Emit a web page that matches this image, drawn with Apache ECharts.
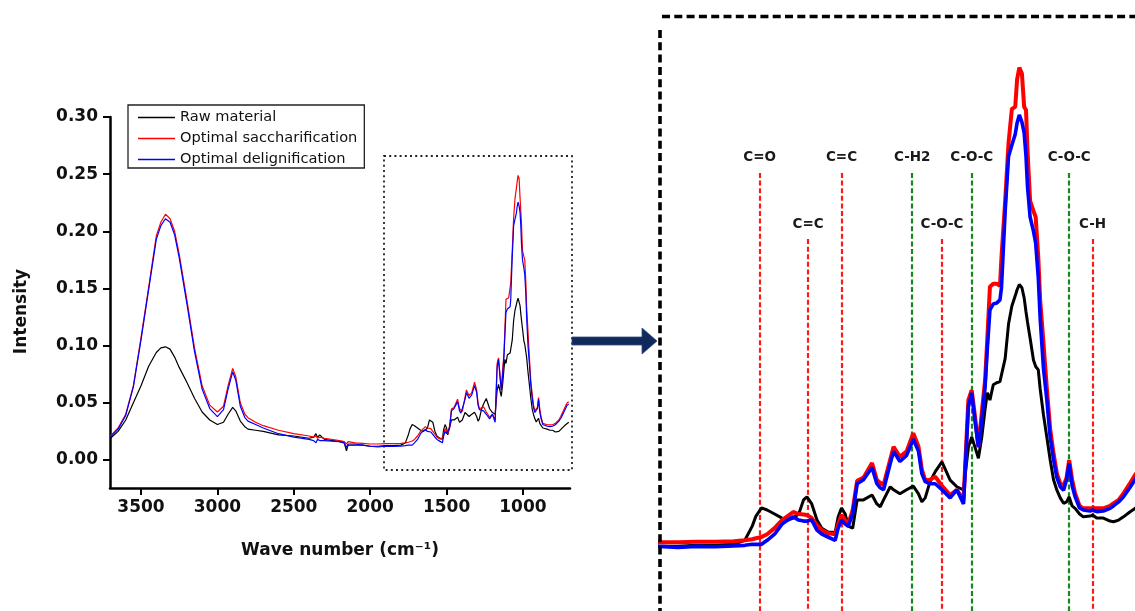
<!DOCTYPE html>
<html>
<head>
<meta charset="utf-8">
<script src="https://cdn.jsdelivr.net/npm/echarts@6/dist/echarts.min.js"></script>
<style>
  html,body{margin:0;padding:0;background:#fff;}
  #chart{width:1135px;height:611px;}
</style>
</head>
<body>
<div id="chart"></div>
<script>
// ---------------- DATA ----------------
const SERIES_NAMES = ['Raw material', 'Optimal saccharification', 'Optimal delignification'];

const WAVENUMBER = [
  3700,3650,3600,3550,3500,3450,3400,3370,3340,3310,3280,3250,3200,3150,3100,3050,3000,2960,2930,2900,
  2880,2850,2820,2800,2750,2700,2600,2500,2400,2370,2355,2345,2330,2300,2200,2170,2155,2145,2100,2050,
  2000,1950,1900,1850,1800,1770,1750,1740,1725,1710,1690,1670,1655,1640,1625,1612,1603,1590,1576,1563,
  1545,1527,1519,1510,1500,1492,1480,1468,1451,1428,1415,1406,1397,1379,1370,1353,1335,1317,1303,1294,
  1285,1272,1258,1240,1218,1200,1182,1169,1160,1151,1142,1133,1124,1118,1111,1102,1093,1084,1080,1070,
  1061,1052,1043,1038,1032,1025,1019,1014,1010,1003,994,988,981,976,967,958,949,940,931,922,
  913,905,898,890,882,870,860,842,835,824,806,788,779,765,752,735,721,710,700
];

const RAW_MATERIAL = [
  0.019,0.025,0.035,0.050,0.065,0.082,0.094,0.098,0.099,0.097,0.090,0.081,0.068,0.054,0.042,0.035,0.031,0.033,0.040,0.046,
  0.043,0.034,0.029,0.027,0.026,0.025,0.022,0.021,0.019,0.020,0.023,0.020,0.022,0.018,0.016,0.015,0.008,0.013,0.013,0.013,
  0.012,0.012,0.0125,0.0125,0.013,0.015,0.022,0.027,0.031,0.030,0.028,0.026,0.025,0.026,0.028,0.035,0.0365,0.033,0.025,0.021,
  0.019,0.019,0.0266,0.031,0.028,0.022,0.021,0.035,0.035,0.0374,0.033,0.0316,0.035,0.0415,0.040,0.038,0.040,0.0418,0.038,0.034,
  0.036,0.044,0.049,0.0538,0.0448,0.0415,0.040,0.061,0.0662,0.061,0.0556,0.066,0.080,0.088,0.0844,0.092,0.093,0.0935,0.094,0.105,
  0.122,0.131,0.136,0.139,0.1416,0.140,0.135,0.128,0.123,0.115,0.1042,0.101,0.0993,0.090,0.077,0.066,0.0547,0.045,0.0398,0.036,
  0.0333,0.034,0.0365,0.032,0.0308,0.028,0.0266,0.027,0.0275,0.026,0.026,0.0245,0.0242,0.025,0.0266,0.029,0.0308,0.032,0.033
];

const OPTIMAL_SACCHARIFICATION = [
  0.021,0.028,0.040,0.065,0.107,0.151,0.196,0.208,0.215,0.211,0.200,0.180,0.140,0.098,0.065,0.048,0.042,0.047,0.065,0.080,
  0.073,0.050,0.040,0.037,0.033,0.030,0.026,0.023,0.021,0.020,0.021,0.019,0.020,0.019,0.017,0.016,0.014,0.016,0.015,0.0145,
  0.014,0.014,0.0143,0.0143,0.0145,0.015,0.0155,0.016,0.0166,0.018,0.021,0.025,0.027,0.029,0.028,0.0278,0.0275,0.026,0.0225,0.020,
  0.0185,0.018,0.023,0.0275,0.025,0.023,0.030,0.0445,0.046,0.0532,0.0448,0.0435,0.0423,0.055,0.0613,0.0563,0.059,0.068,0.0613,0.050,
  0.0448,0.045,0.0465,0.042,0.0374,0.040,0.0349,0.0844,0.0893,0.076,0.0613,0.078,0.0943,0.115,0.1405,0.142,0.142,0.141,0.155,0.183,
  0.2116,0.2285,0.2295,0.243,0.249,0.246,0.2295,0.228,0.208,0.183,0.178,0.175,0.155,0.134,0.1126,0.090,0.070,0.058,0.048,0.0432,
  0.042,0.046,0.0547,0.045,0.0382,0.032,0.0308,0.0308,0.031,0.0308,0.0308,0.032,0.0333,0.035,0.0382,0.043,0.0473,0.050,0.051
];

const OPTIMAL_DELIGNIFICATION = [
  0.020,0.027,0.039,0.064,0.105,0.149,0.193,0.205,0.211,0.208,0.197,0.177,0.137,0.095,0.062,0.045,0.038,0.044,0.062,0.077,
  0.070,0.047,0.037,0.034,0.031,0.028,0.023,0.020,0.018,0.017,0.015,0.018,0.017,0.017,0.016,0.015,0.011,0.014,0.014,0.013,
  0.012,0.0115,0.012,0.0118,0.0122,0.0125,0.013,0.013,0.013,0.015,0.018,0.023,0.025,0.0266,0.025,0.0245,0.0245,0.025,0.020,0.018,
  0.0165,0.015,0.021,0.025,0.023,0.022,0.028,0.043,0.045,0.051,0.043,0.041,0.040,0.053,0.059,0.054,0.057,0.065,0.059,0.048,
  0.044,0.043,0.043,0.040,0.036,0.040,0.033,0.081,0.088,0.074,0.061,0.074,0.091,0.110,0.129,0.132,0.1324,0.134,0.140,0.178,
  0.205,0.2106,0.216,0.2215,0.2255,0.222,0.2166,0.205,0.190,0.175,0.168,0.162,0.145,0.125,0.100,0.0844,0.066,0.055,0.046,0.0415,
  0.0398,0.045,0.053,0.042,0.0365,0.031,0.030,0.0295,0.030,0.0292,0.0295,0.0308,0.032,0.034,0.0365,0.041,0.045,0.048,0.049
];

const X_TICKS = [3500, 3000, 2500, 2000, 1500, 1000];
const Y_TICKS = [0, 0.05, 0.10, 0.15, 0.20, 0.25, 0.30];

// band assignments in the zoomed panel
const PEAK_LABELS = ['C=O', 'C=C', 'C=C', 'C-H2', 'C-O-C', 'C-O-C', 'C-O-C', 'C-H'];
const PEAK_WAVENUMBER = [1730, 1600, 1510, 1320, 1240, 1160, 898, 835];
const PEAK_GROUP = ['lignin', 'lignin', 'lignin', 'cellulose', 'lignin', 'cellulose', 'cellulose', 'lignin'];

// ---------------- LAYOUT / STYLE ----------------
const COLORS = ['#000000', '#ff0000', '#0000ff'];
const GROUP_COLOR = { lignin: '#ff1a1a', cellulose: '#15891a' };
const PEAK_LEVEL = [0, 1, 0, 0, 1, 0, 0, 1];       // 0 = upper row, 1 = lower row
const LEVEL_TOP = [0.1968, 0.1641];                // top of the marker lines (right panel y units)
const RIGHT_Y_MIN = -0.02, RIGHT_Y_MAX = 0.274;
const FONT = 'DejaVu Sans';

const DATA = [RAW_MATERIAL, OPTIMAL_SACCHARIFICATION, OPTIMAL_DELIGNIFICATION];
const pairs = arr => WAVENUMBER.map((w, i) => [w, arr[i]]);

const series = [];
DATA.forEach((arr, k) => {
  series.push({
    name: SERIES_NAMES[k], type: 'line', xAxisIndex: 0, yAxisIndex: 0,
    data: pairs(arr), showSymbol: false, symbol: 'none',
    lineStyle: { color: COLORS[k], width: 1.2 }, itemStyle: { color: COLORS[k] },
    z: 2 + k
  });
});
const rightWidths = [3, 4, 3.6];
DATA.forEach((arr, k) => {
  series.push({
    name: SERIES_NAMES[k], type: 'line', xAxisIndex: 1, yAxisIndex: 1,
    data: pairs(arr), showSymbol: false, symbol: 'none',
    lineStyle: { color: COLORS[k], width: rightWidths[k] }, itemStyle: { color: COLORS[k] },
    z: 5 + k
  });
});
// marker lines for band assignments
series.push({
  type: 'line', xAxisIndex: 1, yAxisIndex: 1, data: [], silent: true, z: 3,
  markLine: {
    silent: true, symbol: ['none', 'none'], animation: false,
    data: PEAK_WAVENUMBER.map((w, i) => {
      const col = GROUP_COLOR[PEAK_GROUP[i]];
      const common = {
        lineStyle: { color: col, width: 2.2, type: [5, 2.6] },
        label: {
          show: true, position: 'start', distance: 8, formatter: PEAK_LABELS[i],
          fontFamily: FONT, fontWeight: 'bold', fontSize: 13.5, color: '#1a1a1a'
        }
      };
      return [
        Object.assign({ coord: [w, LEVEL_TOP[PEAK_LEVEL[i]]] }, common),
        { coord: [w, RIGHT_Y_MIN] }
      ];
    })
  }
});

const tickLabelStyle = { fontFamily: FONT, fontWeight: 'bold', fontSize: 17, color: '#111' };

const option = {
  animation: false,
  backgroundColor: '#ffffff',
  legend: {
    data: SERIES_NAMES, orient: 'vertical', left: 128, top: 105,
    icon: 'rect', padding: [4, 7, 0, 10], itemGap: 4, itemWidth: 37, itemHeight: 1.6,
    borderColor: '#222', borderWidth: 1.3,
    textStyle: { fontFamily: FONT, fontSize: 14.6, color: '#111', lineHeight: 17 },
    selectedMode: false
  },
  grid: [
    { left: 110, top: 117, width: 460, height: 371 },
    { left: 660, top: 17, width: 475, height: 594 }
  ],
  xAxis: [
    {
      type: 'value', gridIndex: 0, inverse: true, min: 692, max: 3703,
      axisLine: { show: true, onZero: false, lineStyle: { color: '#000', width: 2.5 } },
      axisTick: { show: true, length: 7, customValues: X_TICKS, lineStyle: { color: '#000', width: 2 } },
      axisLabel: Object.assign({ customValues: X_TICKS, margin: 11, formatter: v => String(v) }, tickLabelStyle),
      splitLine: { show: false },
      name: 'Wave number (cm⁻¹)', nameLocation: 'middle', nameGap: 54,
      nameTextStyle: { fontFamily: FONT, fontWeight: 'bold', fontSize: 17, color: '#111' }
    },
    { type: 'value', gridIndex: 1, inverse: true, min: 721, max: 1998, show: false }
  ],
  yAxis: [
    {
      type: 'value', gridIndex: 0, min: -0.0245, max: 0.30,
      axisLine: { show: true, onZero: false, lineStyle: { color: '#000', width: 2.5 } },
      axisTick: { show: true, length: 7, customValues: Y_TICKS, lineStyle: { color: '#000', width: 2 } },
      axisLabel: Object.assign({ customValues: Y_TICKS, margin: 12, formatter: v => v.toFixed(2) }, tickLabelStyle),
      splitLine: { show: false },
      name: 'Intensity', nameLocation: 'middle', nameGap: 80,
      nameTextStyle: { fontFamily: FONT, fontWeight: 'bold', fontSize: 17, color: '#111', padding: [0, 18, 0, 0] }
    },
    { type: 'value', gridIndex: 1, min: RIGHT_Y_MIN, max: RIGHT_Y_MAX, show: false }
  ],
  graphic: [
    // dotted region box on the left panel
    { type: 'rect', shape: { x: 384, y: 156, width: 188, height: 314 }, z: 1,
      style: { fill: 'none', stroke: '#222', lineWidth: 1.8, lineDash: [2, 3.2] } },
    // arrow
    { type: 'polygon', z: 10,
      shape: { points: [[572, 337], [642, 337], [642, 328], [657, 341], [642, 354], [642, 345], [572, 345]] },
      style: { fill: '#10295a', stroke: '#2e4d80', lineWidth: 0.8 } },
    // dashed border of the zoomed panel
    { type: 'line', z: 10, shape: { x1: 662, y1: 16.5, x2: 1135, y2: 16.5 },
      style: { stroke: '#000', lineWidth: 3.6, lineDash: [8, 4.3] } },
    { type: 'line', z: 10, shape: { x1: 660, y1: 30, x2: 660, y2: 611 },
      style: { stroke: '#000', lineWidth: 3.6, lineDash: [8, 4.3] } }
  ],
  series: series
};

const chart = echarts.init(document.getElementById('chart'), null, { renderer: 'canvas' });
chart.setOption(option);
</script>
</body>
</html>
